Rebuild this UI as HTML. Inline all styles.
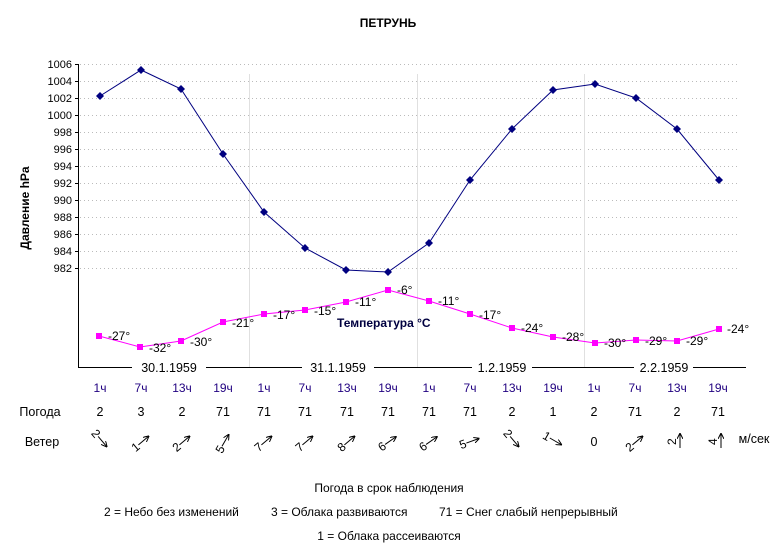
<!DOCTYPE html>
<html><head><meta charset="utf-8"><style>
html,body{margin:0;padding:0;background:#fff;}
svg{display:block;font-family:"Liberation Sans",Arial,sans-serif;}
</style></head><body>
<svg width="777" height="560" viewBox="0 0 777 560" xmlns="http://www.w3.org/2000/svg">
<defs><marker id="ah" markerWidth="6" markerHeight="6" refX="5" refY="3" orient="auto" markerUnits="userSpaceOnUse"><path d="M0,0 L6,3 L0,6" fill="none" stroke="#000" stroke-width="1"/></marker></defs>
<text x="388" y="27" font-size="12" font-weight="bold" text-anchor="middle">ПЕТРУНЬ</text>
<g stroke="#bbb" stroke-width="1" stroke-dasharray="1,3">
<line x1="80" y1="64.5" x2="740" y2="64.5"/><line x1="80" y1="81.5" x2="740" y2="81.5"/><line x1="80" y1="98.5" x2="740" y2="98.5"/><line x1="80" y1="115.5" x2="740" y2="115.5"/><line x1="80" y1="132.5" x2="740" y2="132.5"/><line x1="80" y1="149.5" x2="740" y2="149.5"/><line x1="80" y1="166.5" x2="740" y2="166.5"/><line x1="80" y1="183.5" x2="740" y2="183.5"/><line x1="80" y1="200.5" x2="740" y2="200.5"/><line x1="80" y1="217.5" x2="740" y2="217.5"/><line x1="80" y1="234.5" x2="740" y2="234.5"/><line x1="80" y1="251.5" x2="740" y2="251.5"/><line x1="80" y1="268.5" x2="740" y2="268.5"/>
</g>
<g stroke="#e0e0e0" stroke-width="1">
<line x1="249.5" y1="74" x2="249.5" y2="367"/><line x1="417.5" y1="74" x2="417.5" y2="367"/><line x1="584.5" y1="74" x2="584.5" y2="367"/>
</g>
<line x1="78.5" y1="64" x2="78.5" y2="368" stroke="#000"/>
<g stroke="#000"><line x1="75" y1="64.5" x2="78" y2="64.5"/><line x1="75" y1="81.5" x2="78" y2="81.5"/><line x1="75" y1="98.5" x2="78" y2="98.5"/><line x1="75" y1="115.5" x2="78" y2="115.5"/><line x1="75" y1="132.5" x2="78" y2="132.5"/><line x1="75" y1="149.5" x2="78" y2="149.5"/><line x1="75" y1="166.5" x2="78" y2="166.5"/><line x1="75" y1="183.5" x2="78" y2="183.5"/><line x1="75" y1="200.5" x2="78" y2="200.5"/><line x1="75" y1="217.5" x2="78" y2="217.5"/><line x1="75" y1="234.5" x2="78" y2="234.5"/><line x1="75" y1="251.5" x2="78" y2="251.5"/><line x1="75" y1="268.5" x2="78" y2="268.5"/></g>
<g font-size="11" text-anchor="end" fill="#000">
<text x="72" y="68">1006</text><text x="72" y="85">1004</text><text x="72" y="102">1002</text><text x="72" y="119">1000</text><text x="72" y="136">998</text><text x="72" y="153">996</text><text x="72" y="170">994</text><text x="72" y="187">992</text><text x="72" y="204">990</text><text x="72" y="221">988</text><text x="72" y="238">986</text><text x="72" y="255">984</text><text x="72" y="272">982</text>
</g>
<text transform="translate(29,208) rotate(-90)" font-size="12" font-weight="bold" text-anchor="middle">Давление hPa</text>
<g stroke="#000"><line x1="78" y1="367.5" x2="132" y2="367.5"/><line x1="206" y1="367.5" x2="302" y2="367.5"/><line x1="374" y1="367.5" x2="472" y2="367.5"/><line x1="532" y1="367.5" x2="634" y2="367.5"/><line x1="693" y1="367.5" x2="746" y2="367.5"/></g>
<g font-size="12.5" text-anchor="middle"><text x="169" y="372">30.1.1959</text><text x="338" y="372">31.1.1959</text><text x="502" y="372">1.2.1959</text><text x="664" y="372">2.2.1959</text></g>
<polyline fill="none" stroke="#000080" stroke-width="1" points="100,96 141,70 181,89 223,154 264,212 305,248 346,270 388,272 429,243 470,180 512,129 553,90 595,84 636,98 677,129 719,180"/>
<g fill="#000080">
<path d="M100,92l4,4l-4,4l-4,-4z"/><path d="M141,66l4,4l-4,4l-4,-4z"/><path d="M181,85l4,4l-4,4l-4,-4z"/><path d="M223,150l4,4l-4,4l-4,-4z"/><path d="M264,208l4,4l-4,4l-4,-4z"/><path d="M305,244l4,4l-4,4l-4,-4z"/><path d="M346,266l4,4l-4,4l-4,-4z"/><path d="M388,268l4,4l-4,4l-4,-4z"/><path d="M429,239l4,4l-4,4l-4,-4z"/><path d="M470,176l4,4l-4,4l-4,-4z"/><path d="M512,125l4,4l-4,4l-4,-4z"/><path d="M553,86l4,4l-4,4l-4,-4z"/><path d="M595,80l4,4l-4,4l-4,-4z"/><path d="M636,94l4,4l-4,4l-4,-4z"/><path d="M677,125l4,4l-4,4l-4,-4z"/><path d="M719,176l4,4l-4,4l-4,-4z"/>
</g>
<polyline fill="none" stroke="#ff00ff" stroke-width="1" points="99,336 140,347 181,341 223,322 264,314 305,310 346,302 388,290 429,301 470,314 512,328 553,337 595,343 636,340 677,341 719,329"/>
<g fill="#ff00ff">
<rect x="96" y="333" width="6" height="6"/><rect x="137" y="344" width="6" height="6"/><rect x="178" y="338" width="6" height="6"/><rect x="220" y="319" width="6" height="6"/><rect x="261" y="311" width="6" height="6"/><rect x="302" y="307" width="6" height="6"/><rect x="343" y="299" width="6" height="6"/><rect x="385" y="287" width="6" height="6"/><rect x="426" y="298" width="6" height="6"/><rect x="467" y="311" width="6" height="6"/><rect x="509" y="325" width="6" height="6"/><rect x="550" y="334" width="6" height="6"/><rect x="592" y="340" width="6" height="6"/><rect x="633" y="337" width="6" height="6"/><rect x="674" y="338" width="6" height="6"/><rect x="716" y="326" width="6" height="6"/>
</g>
<g font-size="12" fill="#000">
<text x="108" y="340">-27°</text><text x="149" y="352">-32°</text><text x="190" y="346">-30°</text><text x="232" y="327">-21°</text><text x="273" y="319">-17°</text><text x="314" y="315">-15°</text><text x="355" y="306">-11°</text><text x="397" y="294">-6°</text><text x="438" y="305">-11°</text><text x="479" y="319">-17°</text><text x="521" y="332">-24°</text><text x="562" y="341">-28°</text><text x="604" y="347">-30°</text><text x="645" y="345">-29°</text><text x="686" y="345">-29°</text><text x="727" y="333">-24°</text>
</g>
<text x="337" y="327" font-size="12" font-weight="bold" fill="#000040">Температура °C</text>
<g font-size="12" fill="#200080" text-anchor="middle">
<text x="100" y="392">1ч</text><text x="141" y="392">7ч</text><text x="182" y="392">13ч</text><text x="223" y="392">19ч</text><text x="264" y="392">1ч</text><text x="305" y="392">7ч</text><text x="347" y="392">13ч</text><text x="388" y="392">19ч</text><text x="429" y="392">1ч</text><text x="470" y="392">7ч</text><text x="512" y="392">13ч</text><text x="553" y="392">19ч</text><text x="594" y="392">1ч</text><text x="635" y="392">7ч</text><text x="677" y="392">13ч</text><text x="718" y="392">19ч</text>
</g>
<g font-size="12.5" fill="#000" text-anchor="middle">
<text x="40" y="416">Погода</text>
<text x="100" y="416">2</text><text x="141" y="416">3</text><text x="182" y="416">2</text><text x="223" y="416">71</text><text x="264" y="416">71</text><text x="305" y="416">71</text><text x="347" y="416">71</text><text x="388" y="416">71</text><text x="429" y="416">71</text><text x="470" y="416">71</text><text x="512" y="416">2</text><text x="553" y="416">1</text><text x="594" y="416">2</text><text x="635" y="416">71</text><text x="677" y="416">2</text><text x="718" y="416">71</text>
<text x="42" y="446">Ветер</text>
<text x="594" y="446">0</text>
<text x="754" y="443">м/сек</text>
</g>
<g stroke="#000" stroke-width="1" font-size="12" fill="#000">
<g transform="translate(102,441) rotate(50)"><line x1="-6" y1="0" x2="7" y2="0" marker-end="url(#ah)"/><text x="-13" y="4" stroke="none">2</text></g>
<g transform="translate(143,441) rotate(-40)"><line x1="-6" y1="0" x2="7" y2="0" marker-end="url(#ah)"/><text x="-13" y="4" stroke="none">1</text></g>
<g transform="translate(184,441) rotate(-40)"><line x1="-6" y1="0" x2="7" y2="0" marker-end="url(#ah)"/><text x="-13" y="4" stroke="none">2</text></g>
<g transform="translate(225,441) rotate(-60)"><line x1="-6" y1="0" x2="7" y2="0" marker-end="url(#ah)"/><text x="-13" y="4" stroke="none">5</text></g>
<g transform="translate(266,441) rotate(-40)"><line x1="-6" y1="0" x2="7" y2="0" marker-end="url(#ah)"/><text x="-13" y="4" stroke="none">7</text></g>
<g transform="translate(307,441) rotate(-40)"><line x1="-6" y1="0" x2="7" y2="0" marker-end="url(#ah)"/><text x="-13" y="4" stroke="none">7</text></g>
<g transform="translate(349,441) rotate(-40)"><line x1="-6" y1="0" x2="7" y2="0" marker-end="url(#ah)"/><text x="-13" y="4" stroke="none">8</text></g>
<g transform="translate(390,441) rotate(-35)"><line x1="-6" y1="0" x2="7" y2="0" marker-end="url(#ah)"/><text x="-13" y="4" stroke="none">6</text></g>
<g transform="translate(431,441) rotate(-35)"><line x1="-6" y1="0" x2="7" y2="0" marker-end="url(#ah)"/><text x="-13" y="4" stroke="none">6</text></g>
<g transform="translate(472,441) rotate(-20)"><line x1="-6" y1="0" x2="7" y2="0" marker-end="url(#ah)"/><text x="-13" y="4" stroke="none">5</text></g>
<g transform="translate(514,441) rotate(50)"><line x1="-6" y1="0" x2="7" y2="0" marker-end="url(#ah)"/><text x="-13" y="4" stroke="none">2</text></g>
<g transform="translate(555,441) rotate(30)"><line x1="-6" y1="0" x2="7" y2="0" marker-end="url(#ah)"/><text x="-13" y="4" stroke="none">1</text></g>
<g transform="translate(637,441) rotate(-40)"><line x1="-6" y1="0" x2="7" y2="0" marker-end="url(#ah)"/><text x="-13" y="4" stroke="none">2</text></g>
<g transform="translate(680,441) rotate(-90)"><line x1="-7" y1="0" x2="7" y2="0" marker-end="url(#ah)"/><text x="-4" y="-4" stroke="none">2</text></g>
<g transform="translate(721,441) rotate(-90)"><line x1="-7" y1="0" x2="7" y2="0" marker-end="url(#ah)"/><text x="-4" y="-4" stroke="none">4</text></g>
</g>
<g font-size="12" fill="#000">
<text x="389" y="492" text-anchor="middle">Погода в срок наблюдения</text>
<text x="104" y="516">2 = Небо без изменений</text>
<text x="271" y="516">3 = Облака развиваются</text>
<text x="439" y="516">71 = Снег слабый непрерывный</text>
<text x="389" y="540" text-anchor="middle">1 = Облака рассеиваются</text>
</g>
</svg>
</body></html>
